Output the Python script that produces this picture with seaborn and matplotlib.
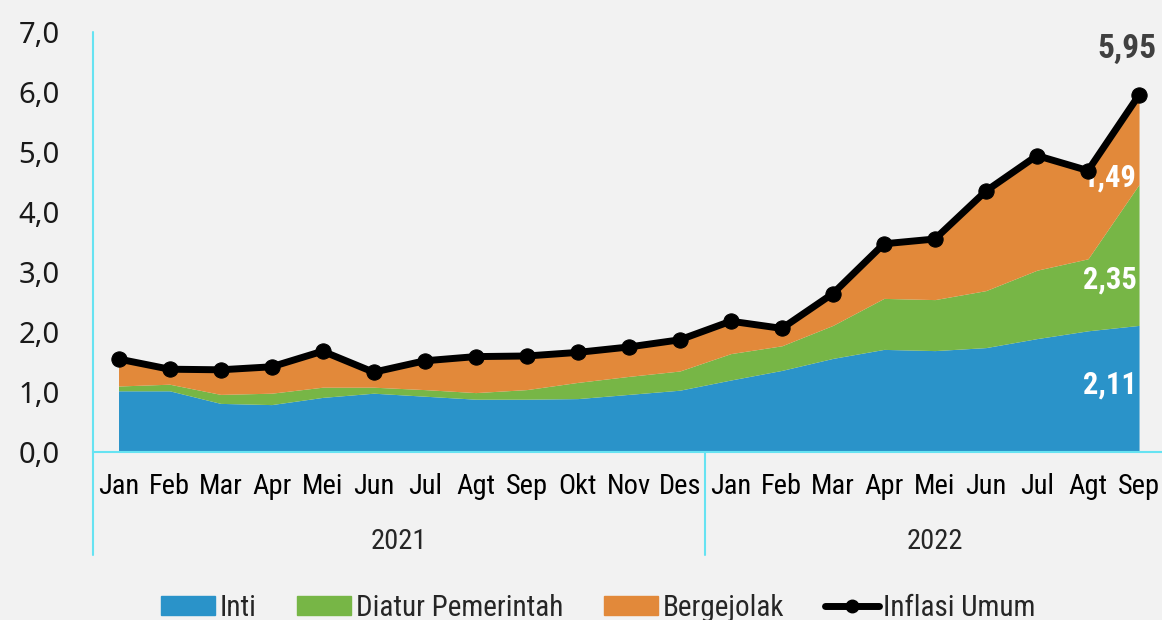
import numpy as np
import matplotlib
matplotlib.use("Agg")
import matplotlib.pyplot as plt
import seaborn as sns
from matplotlib.lines import Line2D
from matplotlib.patches import Patch

# data (andil inflasi, %)
bulan = ['Jan', 'Feb', 'Mar', 'Apr', 'Mei', 'Jun', 'Jul', 'Agt', 'Sep', 'Okt', 'Nov', 'Des',
         'Jan', 'Feb', 'Mar', 'Apr', 'Mei', 'Jun', 'Jul', 'Agt', 'Sep']
tahun = ['2021', '2022']
inti = [1.02, 1.02, 0.81, 0.79, 0.91, 0.98, 0.93, 0.88, 0.88, 0.89, 0.96, 1.03,
        1.20, 1.36, 1.56, 1.71, 1.69, 1.74, 1.89, 2.02, 2.11]
diatur = [0.08, 0.11, 0.15, 0.19, 0.17, 0.10, 0.11, 0.11, 0.16, 0.27, 0.30, 0.32,
          0.44, 0.41, 0.55, 0.85, 0.85, 0.95, 1.14, 1.20, 2.35]
bergejolak = [0.45, 0.25, 0.41, 0.44, 0.60, 0.25, 0.48, 0.60, 0.56, 0.50, 0.49, 0.52,
              0.54, 0.29, 0.53, 0.91, 1.01, 1.66, 1.91, 1.47, 1.49]
umum = [1.55, 1.38, 1.37, 1.42, 1.68, 1.33, 1.52, 1.59, 1.60, 1.66, 1.75, 1.87,
        2.18, 2.06, 2.64, 3.47, 3.55, 4.35, 4.94, 4.69, 5.95]

sns.set_style("white")
plt.rcParams['font.family'] = ['Roboto Condensed', 'DejaVu Sans']

biru = '#2a93c9'
hijau = '#77b646'
oranye = '#e2893a'
cyan = '#66e3f2'
bg = '#f2f2f2'

x = np.arange(len(bulan))

fig = plt.figure(figsize=(11.62, 6.2), dpi=100, facecolor=bg)
ax = fig.add_axes([93 / 1162, (620 - 452) / 620, (1162 - 93) / 1162, 420 / 620])
ax.set_facecolor(bg)

ax.stackplot(x, inti, diatur, bergejolak, colors=[biru, hijau, oranye], linewidth=0)
sns.lineplot(x=x, y=umum, color='black', linewidth=5, marker='o', markersize=11,
             markeredgecolor='black', ax=ax, zorder=5, clip_on=False)

ax.set_xlim(-0.5, 20.45)
ax.set_ylim(0, 7)
ax.set_yticks(range(8))
ax.set_yticklabels([f"{v:.1f}".replace('.', ',') for v in range(8)],
                   family=['Noto Sans', 'DejaVu Sans'], fontsize=21, color='#1a1a1a')
ax.set_xticks(x)
ax.set_xticklabels(bulan, fontsize=20.5, color='black')
ax.tick_params(axis='y', length=0, pad=24)
ax.tick_params(axis='x', length=0, pad=15)

for s in ['top', 'right', 'left']:
    ax.spines[s].set_visible(False)
ax.spines['bottom'].set_color(cyan)
ax.spines['bottom'].set_linewidth(1.5)

# garis pembagi tahun
trans = ax.get_xaxis_transform()
ax.add_line(Line2D([-0.5, -0.5], [-0.245, 1.0], transform=trans, color=cyan, lw=1.5, clip_on=False))
ax.add_line(Line2D([11.5, 11.5], [-0.245, 0.0], transform=trans, color=cyan, lw=1.5, clip_on=False))
ax.text(5.5, -0.213, tahun[0], transform=trans, ha='center', va='center', fontsize=20.5)
ax.text(16, -0.213, tahun[1], transform=trans, ha='center', va='center', fontsize=20.5)

# label nilai
ax.text(20.35, 6.72, "5,95", ha='right', va='center', fontsize=24, fontweight='bold', color='#404040')
ax.text(19.95, 4.58, "1,49", ha='right', va='center', fontsize=22, fontweight='bold', color='white')
ax.text(19.95, 2.88, "2,35", ha='right', va='center', fontsize=22, fontweight='bold', color='white')
ax.text(19.95, 1.12, "2,11", ha='right', va='center', fontsize=22, fontweight='bold', color='white')

handles = [Patch(color=biru), Patch(color=hijau), Patch(color=oranye),
           Line2D([], [], color='black', lw=5, marker='o', markersize=9)]
labels = ['Inti', 'Diatur Pemerintah', 'Bergejolak', 'Inflasi Umum']
fig.legend(handles, labels, loc='center', bbox_to_anchor=(0.515, 0.02), ncol=4, frameon=False,
           fontsize=21, handlelength=1.85, handleheight=0.6, handletextpad=0.15, columnspacing=1.4)

fig.savefig("out.png", dpi=100, facecolor=bg)
